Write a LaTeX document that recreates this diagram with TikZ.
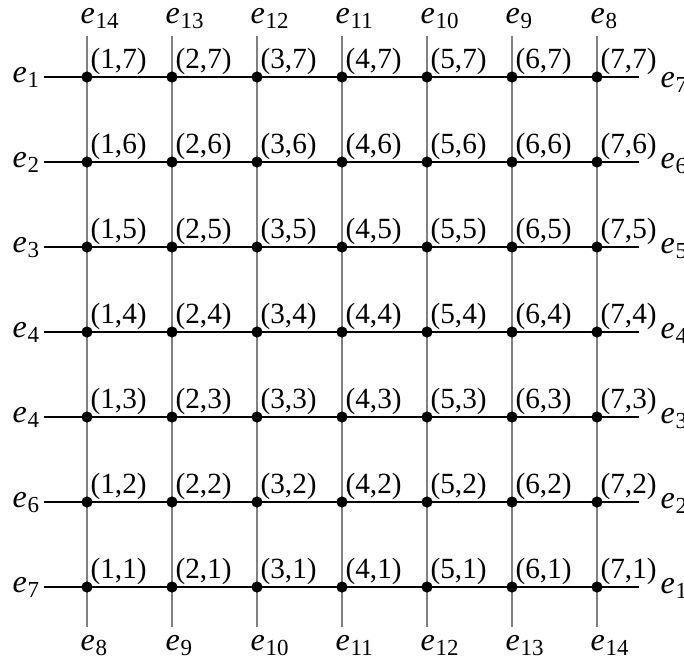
\documentclass[tikz,border=0pt]{standalone}
\usepackage{fontspec}
\setmainfont{Liberation Serif}
\newcommand\elab[1]{\textit{e}\kern0.3pt\raisebox{-1.8pt}{\fontsize{8}{9}\selectfont #1}}
\tikzset{
  hline/.style={black, line width=0.5pt},
  vline/.style={gray, line width=0.5pt},
  gdot/.style={circle, fill=black, inner sep=0pt, minimum size=3.9pt},
  coordlab/.style={anchor=base west, inner sep=0pt, font=\fontsize{10.2}{12}\selectfont},
  elabel/.style={anchor=base west, inner sep=0pt, font=\fontsize{11.2}{13}\selectfont},
}
\begin{document}
\begin{tikzpicture}[x=0.3484pt, y=-0.3484pt]
\useasboundingbox (0,0) rectangle (684,660);
% left/right label indices and right offsets per row (top to bottom)
\def\leftlist{{1,2,3,4,4,6,7}}
\def\rightlist{{7,6,5,4,3,2,1}}
\def\rightoff{{10,6,6,6,6,6,6}}
\foreach \r in {0,...,6} {
  \pgfmathsetmacro\yy{77+85*\r}
  \pgfmathtruncatemacro\jj{7-\r}
  \coordinate (L-\jj) at (44,\yy);
  \coordinate (R-\jj) at (639,\yy);
}
\foreach \c in {0,...,6} {
  \pgfmathsetmacro\xx{87+85*\c}
  \pgfmathtruncatemacro\ii{\c+1}
  \coordinate (T-\ii) at (\xx,36);
  \coordinate (B-\ii) at (\xx,627);
}
% lines
\foreach \j in {1,...,7} { \draw[hline] (L-\j) -- (R-\j); }
\foreach \i in {1,...,7} { \draw[vline] (T-\i) -- (B-\i); }
% dots and coordinate labels
\foreach \i in {1,...,7} {
  \foreach \j in {1,...,7} {
    \pgfmathsetmacro\xx{87+85*(\i-1)}
    \pgfmathsetmacro\yy{77+85*(7-\j)}
    \node[gdot] (n-\i-\j) at (\xx,\yy) {};
    \node[coordlab] (c-\i-\j) at (\xx+3,\yy-9) {(\i,\j)};
  }
}
% left and right labels
\foreach \r in {0,...,6} {
  \pgfmathsetmacro\yy{77+85*\r}
  \pgfmathtruncatemacro\lk{\leftlist[\r]}
  \pgfmathtruncatemacro\rk{\rightlist[\r]}
  \pgfmathsetmacro\ro{\rightoff[\r]}
  \node[elabel] (el-\r) at (12,\yy+5) {\elab{\lk}};
  \node[elabel] (er-\r) at (660,\yy+\ro) {\elab{\rk}};
}
% top and bottom labels
\foreach \c in {0,...,6} {
  \pgfmathsetmacro\xx{87+85*\c}
  \pgfmathtruncatemacro\tk{14-\c}
  \pgfmathtruncatemacro\bk{8+\c}
  \node[elabel] (et-\c) at (\xx-7,23) {\elab{\tk}};
  \node[elabel] (eb-\c) at (\xx-7,650) {\elab{\bk}};
}
\end{tikzpicture}
\end{document}
